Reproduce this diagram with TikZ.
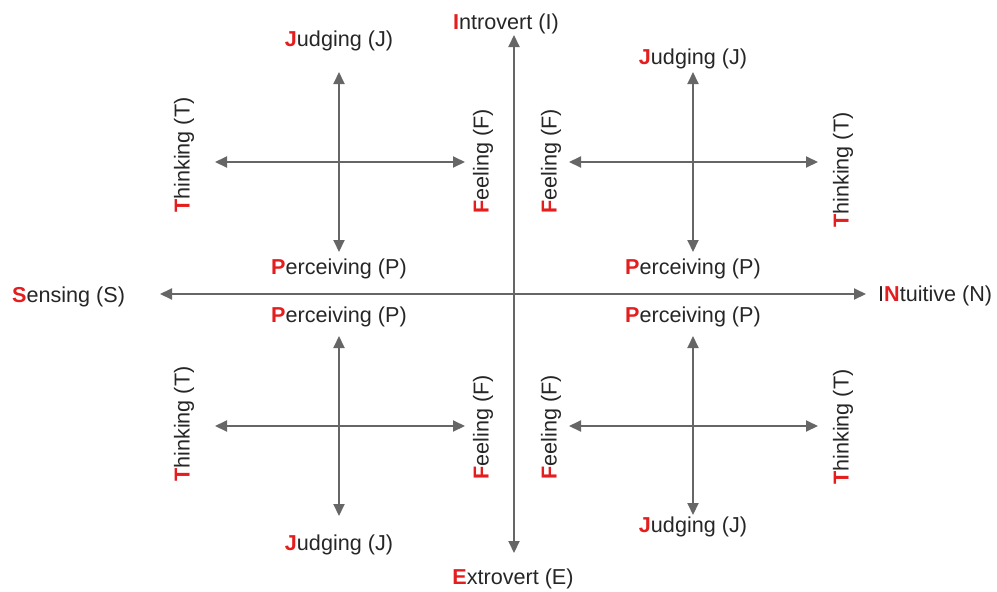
\documentclass[tikz,border=0pt]{standalone}
\usepackage{fontspec}
\setmainfont{Liberation Sans}
\usetikzlibrary{arrows.meta}
\definecolor{axisgray}{HTML}{666666}
\definecolor{lettered}{HTML}{E41E1E}
\definecolor{inkgray}{HTML}{262626}
\newcommand\hl[1]{\textcolor{lettered}{\bfseries #1}}
\begin{document}
\begin{tikzpicture}[x=1pt,y=-1pt,
  axis/.style={draw=axisgray,line width=2pt,
    {Triangle[length=12pt,width=11pt]}-{Triangle[length=12pt,width=11pt]}},
  lbl/.style={inner sep=0pt,font=\fontsize{21.6}{24}\selectfont,text=inkgray},
  hlbl/.style={lbl,anchor=base},
  vlbl/.style={lbl,rotate=90,anchor=center}]
\useasboundingbox (0,0) rectangle (997,592);

% main axes
\coordinate (mainN) at (514,35);
\coordinate (mainS) at (514,553);
\coordinate (mainW) at (160,294);
\coordinate (mainE) at (866,294);
\draw[axis] (mainN) -- (mainS);
\draw[axis] (mainW) -- (mainE);

% quadrant crosses
\coordinate (tlN) at (339,72);  \coordinate (tlS) at (339,252);
\coordinate (tlW) at (215,162); \coordinate (tlE) at (465,162);
\coordinate (trN) at (693,72);  \coordinate (trS) at (693,252);
\coordinate (trW) at (569,162); \coordinate (trE) at (818,162);
\coordinate (blN) at (339,336); \coordinate (blS) at (339,516);
\coordinate (blW) at (215,426); \coordinate (blE) at (465,426);
\coordinate (brN) at (693,336); \coordinate (brS) at (693,515);
\coordinate (brW) at (569,426); \coordinate (brE) at (818,426);
\foreach \q in {tl,tr,bl,br}{
  \draw[axis] (\q N) -- (\q S);
  \draw[axis] (\q W) -- (\q E);
}

% main axis labels
\node[hlbl] (intro) at (506,29) {\hl{I}ntrovert (I)};
\node[hlbl] (extro) at (513,584) {\hl{E}xtrovert (E)};
\node[lbl,anchor=base west] (sens) at (12,302) {\hl{S}ensing (S)};
\node[lbl,anchor=base west] (intu) at (878,301) {I\hl{N}tuitive (N)};

% top-left quadrant
\node[hlbl] (tlJ) at (339,46) {\hl{J}udging (J)};
\node[hlbl] (tlP) at (339,274) {\hl{P}erceiving (P)};
\node[vlbl] (tlT) at (184,155) {\hl{T}hinking (T)};
\node[vlbl] (tlF) at (483,161) {\hl{F}eeling (F)};

% top-right quadrant
\node[hlbl] (trJ) at (693,64) {\hl{J}udging (J)};
\node[hlbl] (trP) at (693,274) {\hl{P}erceiving (P)};
\node[vlbl] (trF) at (551,161) {\hl{F}eeling (F)};
\node[vlbl] (trT) at (843,170) {\hl{T}hinking (T)};

% bottom-left quadrant
\node[hlbl] (blP) at (339,322) {\hl{P}erceiving (P)};
\node[hlbl] (blJ) at (339,550) {\hl{J}udging (J)};
\node[vlbl] (blT) at (184,424) {\hl{T}hinking (T)};
\node[vlbl] (blF) at (483,427) {\hl{F}eeling (F)};

% bottom-right quadrant
\node[hlbl] (brP) at (693,322) {\hl{P}erceiving (P)};
\node[hlbl] (brJ) at (693,532) {\hl{J}udging (J)};
\node[vlbl] (brF) at (551,427) {\hl{F}eeling (F)};
\node[vlbl] (brT) at (843,427) {\hl{T}hinking (T)};
\end{tikzpicture}
\end{document}
